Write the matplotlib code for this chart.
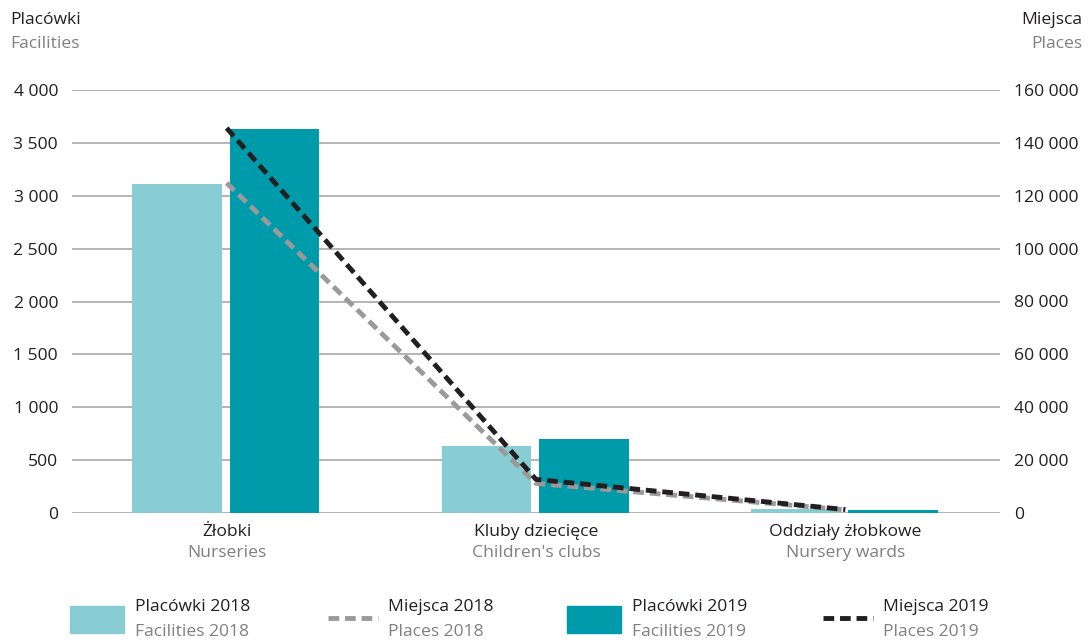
import matplotlib
matplotlib.use("Agg")
from matplotlib import pyplot as plt
from matplotlib.patches import Rectangle
from matplotlib.lines import Line2D
import numpy as np

cats_pl = ["Żłobki", "Kluby dziecięce", "Oddziały żłobkowe"]
cats_en = ["Nurseries", "Children's clubs", "Nursery wards"]
facilities_2018 = [3111, 634, 36]
facilities_2019 = [3630, 700, 29]
places_2018 = [124800, 11200, 1200]
places_2019 = [145600, 12700, 1300]
left_ticks = [0, 500, 1000, 1500, 2000, 2500, 3000, 3500, 4000]
right_ticks = [0, 20000, 40000, 60000, 80000, 100000, 120000, 140000, 160000]

c_light = "#87cdd3"
c_teal = "#009baa"
c_gray = "#9a9a9a"
c_black = "#231f20"
c_sub = "#808080"
c_grid = "#b3b3b3"

plt.rcParams['font.family'] = ['Open Sans', 'DejaVu Sans']
fs = 12.6

def fmt(v):
    return f"{v:,.0f}".replace(",", " ")

fig = plt.figure(figsize=(10.88, 6.4), dpi=100)
ax = fig.add_axes([72/1088, 1-513/640, 928/1088, 423/640])
ax2 = ax.twinx()

x = np.arange(len(cats_pl))
w = 0.29
ax.bar(x - 0.16, facilities_2018, w, color=c_light, zorder=2)
ax.bar(x + 0.155, facilities_2019, w, color=c_teal, zorder=2)
ax.set_xlim(-0.5, 2.5)
ax.set_ylim(0, 4000)
ax.set_yticks(left_ticks)
ax.set_yticklabels([fmt(v) for v in left_ticks], fontsize=fs, color="#231f20")
for t in left_ticks:
    ax.axhline(t, color=c_grid, lw=1.4, zorder=1)
ax.set_xticks([])
ax.tick_params(axis='y', length=0, pad=10)
for s in ax.spines.values():
    s.set_visible(False)

ax2.plot(x, places_2018, color=c_gray, lw=3.5, dashes=(2.2, 1.2))
ax2.plot(x, places_2019, color=c_black, lw=3.5, dashes=(2.2, 1.2))
ax2.set_ylim(0, 160000)
ax2.set_yticks(right_ticks)
ax2.set_yticklabels([fmt(v) for v in right_ticks], fontsize=fs, color="#231f20")
ax2.tick_params(axis='y', length=0, pad=10)
for s in ax2.spines.values():
    s.set_visible(False)

trans = ax.get_xaxis_transform()
for i in range(len(cats_pl)):
    ax.text(x[i], -0.045, cats_pl[i], transform=trans, ha='center', va='center',
            fontsize=fs, color="#231f20")
    ax.text(x[i], -0.095, cats_en[i], transform=trans, ha='center', va='center',
            fontsize=fs, color=c_sub)

fig.text(10/1088, 1-20/640, "Placówki", fontsize=fs, color="#231f20", va='center')
fig.text(10/1088, 1-44/640, "Facilities", fontsize=fs, color=c_sub, va='center')
fig.text(1082/1088, 1-20/640, "Miejsca", fontsize=fs, color="#231f20", va='center', ha='right')
fig.text(1082/1088, 1-44/640, "Places", fontsize=fs, color=c_sub, va='center', ha='right')

# legend
leg = [("patch", c_light, "Placówki 2018", "Facilities 2018", 70),
       ("line", c_gray, "Miejsca 2018", "Places 2018", 328),
       ("patch", c_teal, "Placówki 2019", "Facilities 2019", 567),
       ("line", c_black, "Miejsca 2019", "Places 2019", 823)]
for kind, col, l1, l2, px in leg:
    if kind == "patch":
        fig.patches.append(Rectangle((px/1088, 1-633/640), 54/1088, 27/640,
                                     transform=fig.transFigure, color=col))
        tx = px + 65
    else:
        fig.lines.append(Line2D([px/1088, (px+50)/1088], [1-618/640, 1-618/640],
                                transform=fig.transFigure, color=col, lw=3.5,
                                dashes=(2.2, 1.2)))
        tx = px + 60
    fig.text(tx/1088, 1-607/640, l1, fontsize=fs, color="#231f20", va='center')
    fig.text(tx/1088, 1-632/640, l2, fontsize=fs, color=c_sub, va='center')

fig.savefig("out.png", dpi=100)
